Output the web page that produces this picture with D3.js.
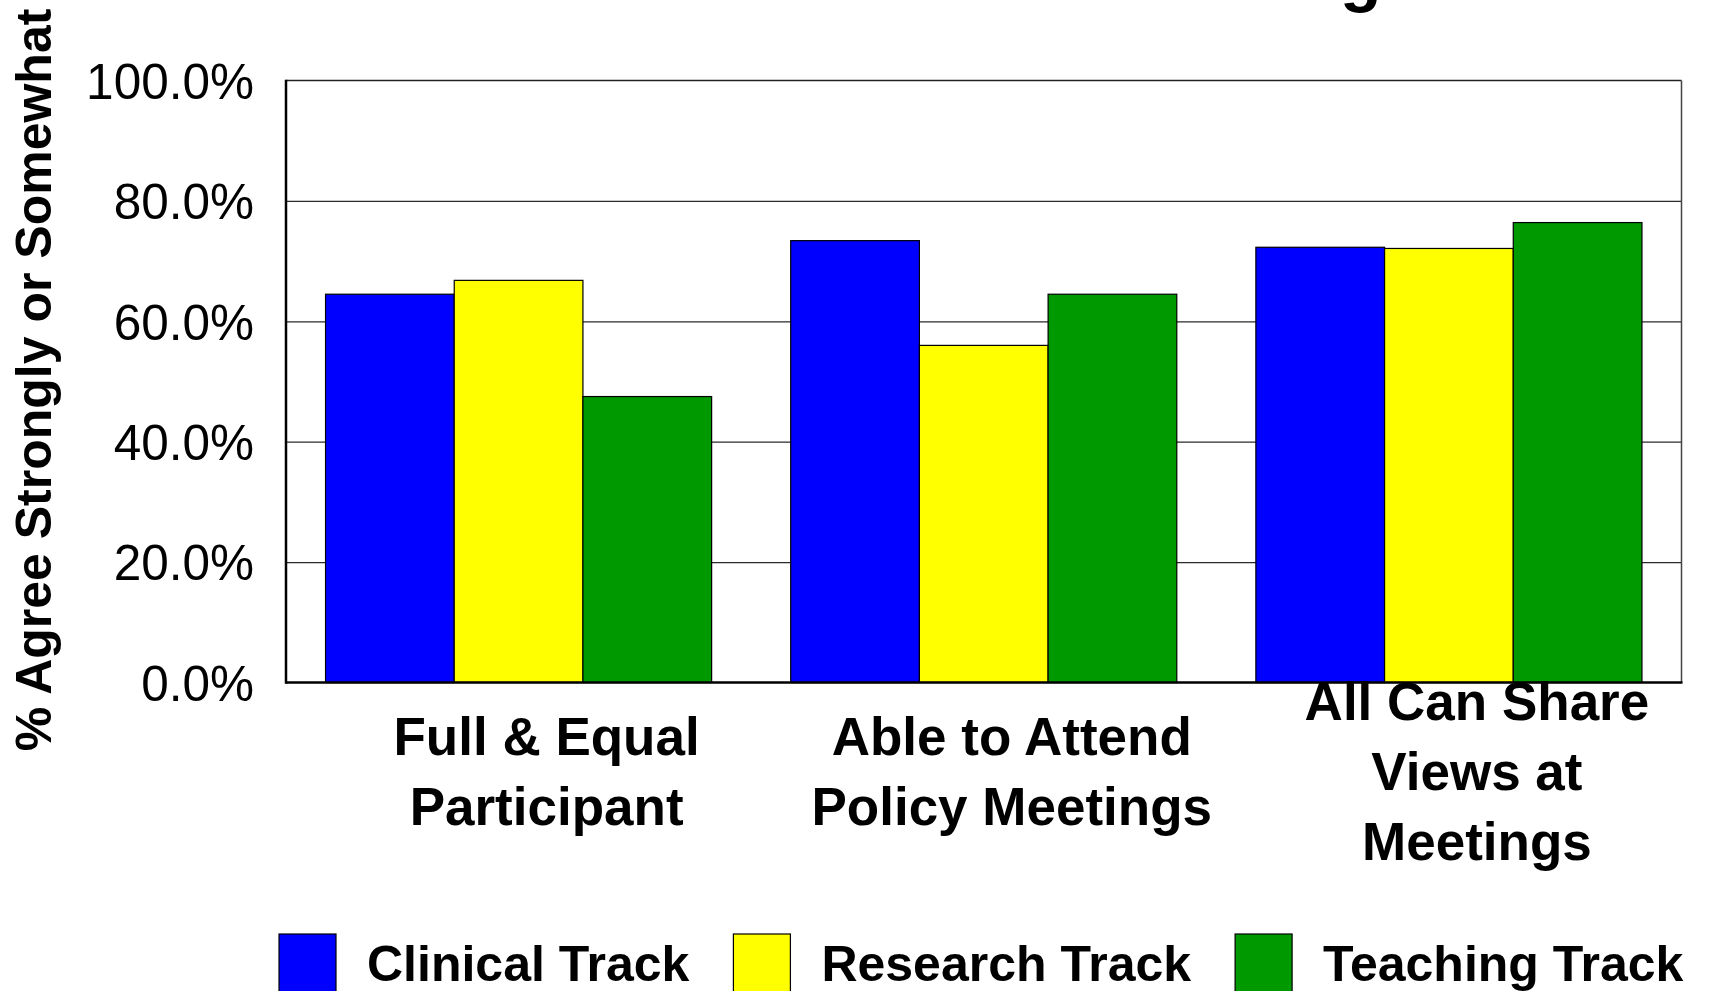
<!DOCTYPE html>
<html>
<head>
<meta charset="utf-8">
<script src="https://cdn.jsdelivr.net/npm/d3@7"></script>
<style>
  html, body { margin: 0; padding: 0; background: #ffffff; overflow: hidden; }
  svg { display: block; font-family: "Liberation Sans", Arial, Helvetica, sans-serif; }
</style>
</head>
<body>
<svg id="chart" width="1711" height="991"></svg>
<script>
// Survey categories (each label broken into its display lines)
const categories = ["Full & Equal Participant", "Able to Attend Policy Meetings", "All Can Share Views at Meetings"];
const categoryLines = [["Full & Equal", "Participant"], ["Able to Attend", "Policy Meetings"], ["All Can Share", "Views at", "Meetings"]];

// Faculty tracks
const series = ["Clinical Track", "Research Track", "Teaching Track"];
const seriesColors = ["#0000ff", "#ffff00", "#009900"];

// % agreeing strongly or somewhat, per category
const clinical = [64.5, 73.4, 72.3];
const research = [66.8, 56.0, 72.1];
const teaching = [47.5, 64.5, 76.4];

const yTicks = [0, 20, 40, 60, 80, 100];

const titleText = "Inclusion in Meetings";
const yTitle = "% Agree Strongly or Somewhat";

const values = [clinical, research, teaching];
const rows = categories.map((c, i) => ({
  category: c,
  lines: categoryLines[i],
  bars: series.map((s, j) => ({ series: s, value: values[j][i], color: seriesColors[j] }))
}));

const svg = d3.select("#chart");
const plot = { left: 286, right: 1681.5, top: 80.5, bottom: 682.5 };

const x0 = d3.scaleBand()
  .domain(categories)
  .range([plot.left, plot.right])
  .paddingInner(0.17)
  .paddingOuter(0.085);

const x1 = d3.scaleBand()
  .domain(series)
  .range([0, x0.bandwidth()]);

const y = d3.scaleLinear().domain([0, 100]).range([plot.bottom, plot.top]);

// Title (sits above the visible area)
const title = svg.append("text")
  .attr("y", -1)
  .attr("font-size", 68)
  .attr("font-weight", "bold")
  .attr("fill", "#000")
  .text(titleText);
const gIndex = titleText.lastIndexOf("g");
const gPos = title.node().getStartPositionOfChar(gIndex).x;
title.attr("x", 1340 - gPos);

// Horizontal gridlines
svg.append("g")
  .attr("transform", `translate(${plot.left},0)`)
  .call(d3.axisLeft(y).tickValues(yTicks.filter(t => t > 0 && t < 100))
    .tickSize(-(plot.right - plot.left)).tickFormat(""))
  .call(g => g.select(".domain").remove())
  .call(g => g.selectAll(".tick line").attr("stroke", "#2a2a2a").attr("stroke-width", 1.3));

// Plot frame: thin top/right, heavier left/bottom
svg.append("line").attr("x1", plot.left).attr("x2", plot.right).attr("y1", plot.top).attr("y2", plot.top)
  .attr("stroke", "#222").attr("stroke-width", 1.5);
svg.append("line").attr("x1", plot.right).attr("x2", plot.right).attr("y1", plot.top).attr("y2", plot.bottom)
  .attr("stroke", "#444").attr("stroke-width", 1.5);

// Bars
const groups = svg.append("g").selectAll("g")
  .data(rows)
  .join("g")
  .attr("transform", d => `translate(${x0(d.category)},0)`);

groups.selectAll("rect")
  .data(d => d.bars)
  .join("rect")
  .attr("x", d => x1(d.series))
  .attr("y", d => y(d.value))
  .attr("width", x1.bandwidth())
  .attr("height", d => y(0) - y(d.value))
  .attr("fill", d => d.color)
  .attr("stroke", "#000")
  .attr("stroke-width", 1.2);

// Axis lines
svg.append("line").attr("x1", plot.left).attr("x2", plot.left).attr("y1", plot.top - 0.7).attr("y2", plot.bottom + 1.2)
  .attr("stroke", "#000").attr("stroke-width", 2.5);
svg.append("line").attr("x1", plot.left).attr("x2", plot.right + 1).attr("y1", plot.bottom).attr("y2", plot.bottom)
  .attr("stroke", "#000").attr("stroke-width", 2.5);

// Y tick labels
svg.append("g")
  .attr("transform", `translate(${plot.left},0)`)
  .call(d3.axisLeft(y).tickValues(yTicks).tickSize(0).tickPadding(32)
    .tickFormat(d => d.toFixed(1) + "%"))
  .call(g => g.select(".domain").remove())
  .call(g => g.selectAll(".tick text")
    .attr("font-family", "'Liberation Sans', Arial, sans-serif")
    .attr("font-size", 49.5)
    .attr("fill", "#000")
    .attr("dy", "0.36em"));

// Y axis title
svg.append("text")
  .attr("transform", `translate(50.5,${(plot.top + plot.bottom) / 2 - 1.5}) rotate(-90)`)
  .attr("text-anchor", "middle")
  .attr("font-size", 50)
  .attr("font-weight", "bold")
  .attr("fill", "#000")
  .text(yTitle);

// Category labels (multi-line, vertically centred on a common line)
const lineGap = 70;
const labelMid = 789.5;
svg.append("g").selectAll("text")
  .data(rows)
  .join("text")
  .attr("text-anchor", "middle")
  .attr("font-size", 53)
  .attr("font-weight", "bold")
  .attr("fill", "#000")
  .each(function (d) {
    const cx = x0(d.category) + x0.bandwidth() / 2 + 28;
    const n = d.lines.length;
    d3.select(this).selectAll("tspan")
      .data(d.lines)
      .join("tspan")
      .attr("x", cx)
      .attr("y", (t, i) => labelMid + (i - (n - 1) / 2) * lineGap)
      .text(t => t);
  });

// Legend
const legend = svg.append("g");
let lx = 279;
series.forEach((s, i) => {
  legend.append("rect")
    .attr("x", lx).attr("y", 934)
    .attr("width", 57).attr("height", 60)
    .attr("fill", seriesColors[i])
    .attr("stroke", "#000").attr("stroke-width", 1.2);
  const t = legend.append("text")
    .attr("x", lx + 57 + 31)
    .attr("y", 981)
    .attr("font-size", 50)
    .attr("font-weight", "bold")
    .attr("fill", "#000")
    .text(s);
  lx = lx + 57 + 31 + t.node().getComputedTextLength() + 44;
});
</script>
</body>
</html>
